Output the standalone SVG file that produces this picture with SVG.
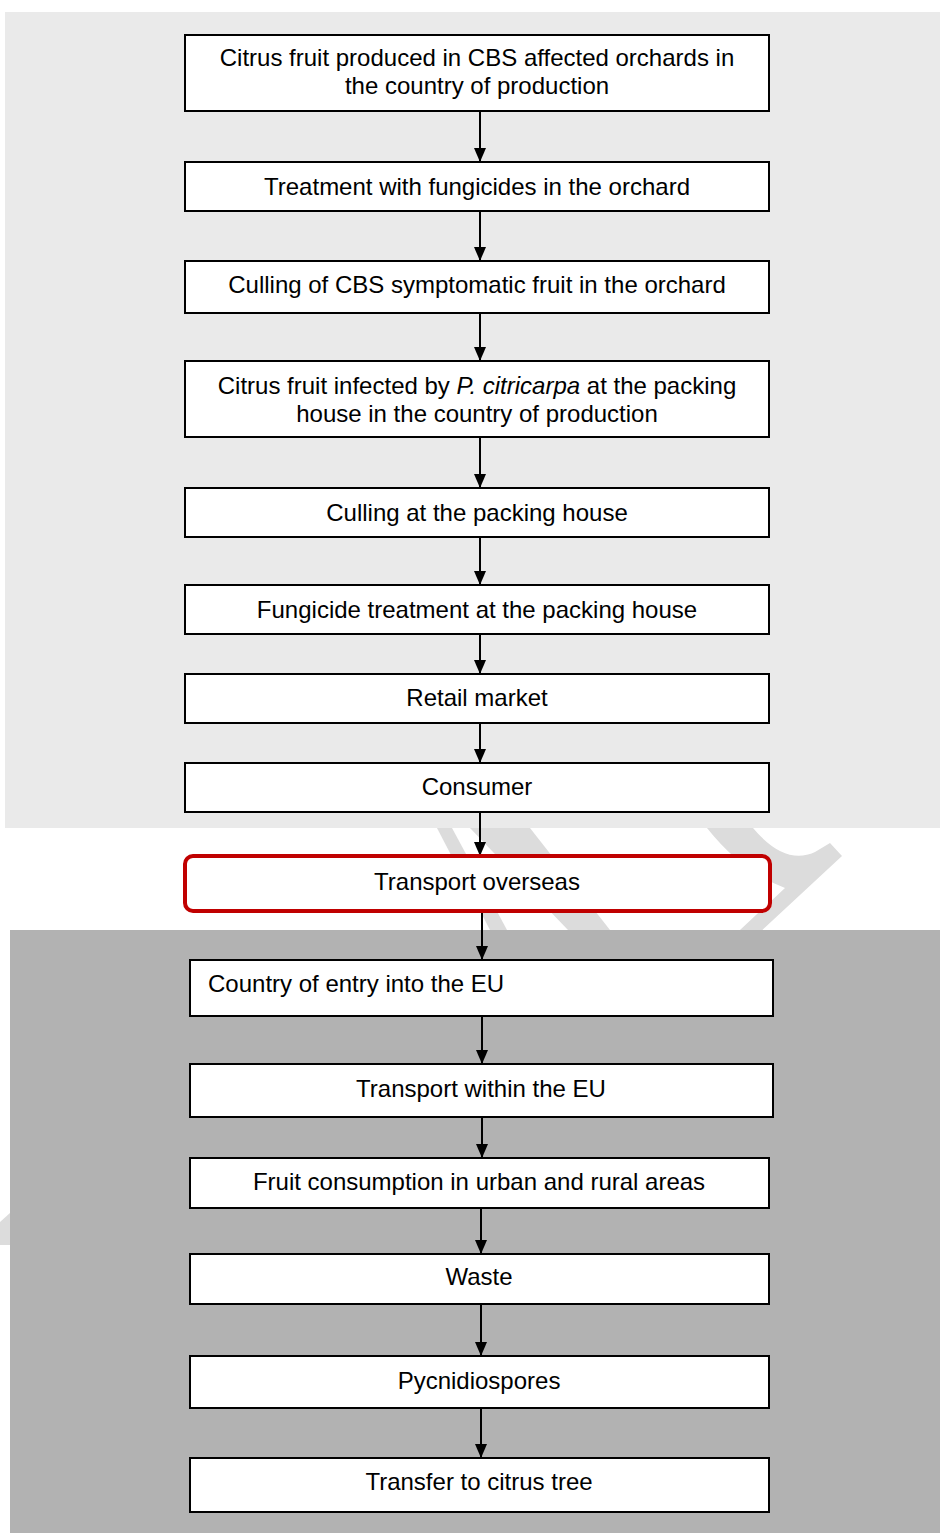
<svg xmlns="http://www.w3.org/2000/svg" width="940" height="1533" viewBox="0 0 940 1533">
<style>
.box{fill:#ffffff;stroke:#000000;stroke-width:2}
.red{fill:#ffffff;stroke:#c00000;stroke-width:4}
.t{font-family:"Liberation Sans",Arial,sans-serif;font-size:24px;fill:#000000;text-anchor:middle}
.tl{font-family:"Liberation Sans",Arial,sans-serif;font-size:24px;fill:#000000}
.c{stroke:#000000;stroke-width:2;fill:none;marker-end:url(#ah)}
.wm{fill:#dcdcdc}
</style>
<defs>
<marker id="ah" markerWidth="15" markerHeight="12" refX="14" refY="6" orient="auto" markerUnits="userSpaceOnUse" viewBox="0 0 15 12">
<path d="M0,0 L14,6 L0,12 Z" fill="#000000"/>
</marker>
</defs>
<rect x="0" y="0" width="940" height="1533" fill="#ffffff"/>
<g id="watermark">
<polygon class="wm" points="437,828 452,828 507,930 490,930"/>
<polygon class="wm" points="470,828 530,828 610,930 568,930"/>
<path class="wm" d="M707,828 L753,828 Q785,866 815,852 L830,843 L842,856 L757,935 L740,930 L785,888 Q742,872 707,828 Z"/>
<polygon class="wm" points="0,1222 10,1213 10,1245 0,1245"/>
</g>
<rect id="panel-top" x="5" y="12" width="935" height="816" fill="#eaeaea"/>
<rect id="panel-bottom" x="10" y="930" width="930" height="603" fill="#b2b2b2"/>
<g id="connectors">
<line class="c" x1="480" y1="111" x2="480" y2="162"/>
<line class="c" x1="480" y1="211" x2="480" y2="261"/>
<line class="c" x1="480" y1="313" x2="480" y2="361"/>
<line class="c" x1="480" y1="437" x2="480" y2="488"/>
<line class="c" x1="480" y1="537" x2="480" y2="585"/>
<line class="c" x1="480" y1="634" x2="480" y2="674"/>
<line class="c" x1="480" y1="723" x2="480" y2="763"/>
<line class="c" x1="480" y1="812" x2="480" y2="856"/>
<line class="c" x1="482" y1="911" x2="482" y2="960"/>
<line class="c" x1="482" y1="1016" x2="482" y2="1064"/>
<line class="c" x1="482" y1="1117" x2="482" y2="1158"/>
<line class="c" x1="481" y1="1208" x2="481" y2="1254"/>
<line class="c" x1="481" y1="1304" x2="481" y2="1356"/>
<line class="c" x1="481" y1="1408" x2="481" y2="1458"/>
</g>
<g id="n1"><rect class="box" x="185" y="35" width="584" height="76"/>
<text class="t" x="477" y="66">Citrus fruit produced in CBS affected orchards in</text>
<text class="t" x="477" y="94">the country of production</text></g>
<g id="n2"><rect class="box" x="185" y="162" width="584" height="49"/>
<text class="t" x="477" y="195">Treatment with fungicides in the orchard</text></g>
<g id="n3"><rect class="box" x="185" y="261" width="584" height="52"/>
<text class="t" x="477" y="293">Culling of CBS symptomatic fruit in the orchard</text></g>
<g id="n4"><rect class="box" x="185" y="361" width="584" height="76"/>
<text class="t" x="477" y="394">Citrus fruit infected by <tspan font-style="italic">P. citricarpa</tspan> at the packing</text>
<text class="t" x="477" y="422">house in the country of production</text></g>
<g id="n5"><rect class="box" x="185" y="488" width="584" height="49"/>
<text class="t" x="477" y="521">Culling at the packing house</text></g>
<g id="n6"><rect class="box" x="185" y="585" width="584" height="49"/>
<text class="t" x="477" y="618">Fungicide treatment at the packing house</text></g>
<g id="n7"><rect class="box" x="185" y="674" width="584" height="49"/>
<text class="t" x="477" y="706">Retail market</text></g>
<g id="n8"><rect class="box" x="185" y="763" width="584" height="49"/>
<text class="t" x="477" y="795">Consumer</text></g>
<g id="n9"><rect class="red" x="185" y="856" width="585" height="55" rx="8"/>
<text class="t" x="477" y="890">Transport overseas</text></g>
<g id="n10"><rect class="box" x="190" y="960" width="583" height="56"/>
<text class="tl" x="208" y="992">Country of entry into the EU</text></g>
<g id="n11"><rect class="box" x="190" y="1064" width="583" height="53"/>
<text class="t" x="481" y="1097">Transport within the EU</text></g>
<g id="n12"><rect class="box" x="190" y="1158" width="579" height="50"/>
<text class="t" x="479" y="1190">Fruit consumption in urban and rural areas</text></g>
<g id="n13"><rect class="box" x="190" y="1254" width="579" height="50"/>
<text class="t" x="479" y="1285">Waste</text></g>
<g id="n14"><rect class="box" x="190" y="1356" width="579" height="52"/>
<text class="t" x="479" y="1389">Pycnidiospores</text></g>
<g id="n15"><rect class="box" x="190" y="1458" width="579" height="54"/>
<text class="t" x="479" y="1490">Transfer to citrus tree</text></g>
</svg>
